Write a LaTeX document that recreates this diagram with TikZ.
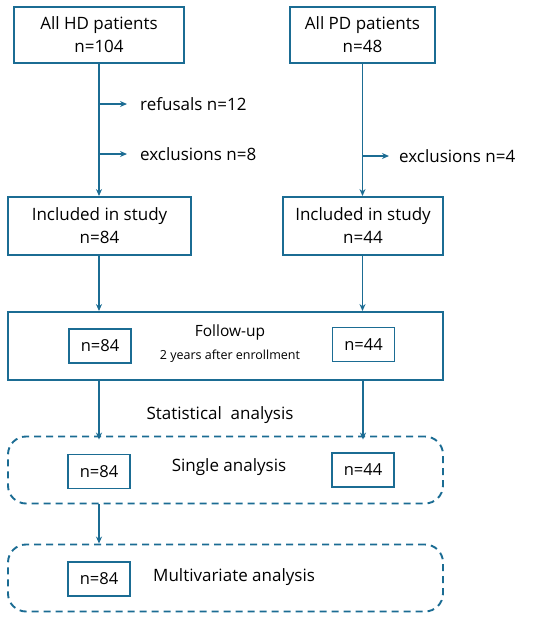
\documentclass[tikz,border=0pt]{standalone}
\usepackage{fontspec}
\setmainfont{Open Sans}
\usetikzlibrary{positioning, arrows.meta}
\definecolor{flowblue}{HTML}{1B6C93}
\tikzset{
    x=1pt, y=-1pt, % pixel-like units, y pointing down
    box/.style={draw=flowblue, line width=1.9pt, align=center, inner sep=2pt, font=\fontsize{17}{23}\selectfont}, % main boxes
    smallbox/.style={box, font=\fontsize{16.5}{20}\selectfont, minimum width=62pt, minimum height=34pt}, % the n= boxes
    dashbox/.style={draw=flowblue, line width=1.9pt, rounded corners=18pt, dash pattern=on 7pt off 5pt, minimum width=435pt, minimum height=67pt},
    label/.style={inner sep=5pt, font=\fontsize{17}{20}\selectfont},
    flow/.style={draw=flowblue, line width=1.9pt, -{Stealth[length=7pt, width=6pt]}},
}
\begin{document}
\begin{tikzpicture}
\useasboundingbox (0,0) rectangle (550,619);
% top row
\node[box, minimum width=170pt, minimum height=56pt] (hd) at (99,35) {All HD patients\\n=104};
\node[box, minimum width=145pt, minimum height=56pt] (pd) at (362.5,35) {All PD patients\\n=48};
% included
\node[box, minimum width=183pt, minimum height=58pt] (inclhd) at (99.5,226) {Included in study\\n=84};
\node[box, minimum width=160pt, minimum height=58pt] (inclpd) at (363,226) {Included in study\\n=44};
% drop outs
\coordinate (refhd) at (99,104);
\coordinate (exhd) at (99,154);
\coordinate (expd) at (363,156);
\node[label, anchor=west] (refusals) at (135,104) {refusals n=12};
\node[label, anchor=west] (exclhd) at (135,154) {exclusions n=8};
\node[label, anchor=west] (exclpd) at (394,156) {exclusions n=4};
% follow-up
\node[box, minimum width=435pt, minimum height=68pt] (follow) at (225.5,346) {};
\node[label, font=\fontsize{15.5}{17}\selectfont] (futitle) at (230,332) {Follow-up};
\node[label, font=\fontsize{12.5}{14}\selectfont] (fuyears) at (230,356) {2 years after enrollment};
\node[smallbox] (fu84) at (100,346) {n=84};
\node[smallbox] (fu44) at (363.5,344.5) {n=44};
\node[label] (stat) at (220,415) {Statistical\ \ analysis};
% single analysis
\node[dashbox] (single) at (225.5,470) {};
\node[label] (singletext) at (229,467) {Single analysis};
\node[smallbox] (s84) at (99,471.5) {n=84};
\node[smallbox] (s44) at (363,470) {n=44};
% multivariate analysis
\node[dashbox] (multi) at (225.5,578) {};
\node[smallbox] (m84) at (99,579) {n=84};
\node[label, anchor=west] (multitext) at (148,577) {Multivariate analysis};
% connectors
\draw[flow] (hd.south) -- (inclhd.north -| hd.south);
\draw[flow] (pd.south) -- (inclpd.north -| pd.south);
\draw[flow, shorten >=8pt] (refhd) -- (refusals.west);
\draw[flow, shorten >=8pt] (exhd) -- (exclhd.west);
\draw[flow, shorten >=5pt] (expd) -- (exclpd.west);
\draw[flow] (inclhd.south -| hd.south) -- (follow.north -| hd.south);
\draw[flow] (inclpd.south -| pd.south) -- (follow.north -| pd.south);
\draw[flow] (follow.south -| hd.south) -- ([yshift=-4pt]single.north -| hd.south);
\draw[flow] (follow.south -| inclpd.south) -- ([yshift=-4pt]single.north -| inclpd.south);
\draw[flow] (single.south -| s84.south) -- (multi.north -| s84.south);
\end{tikzpicture}
\end{document}
